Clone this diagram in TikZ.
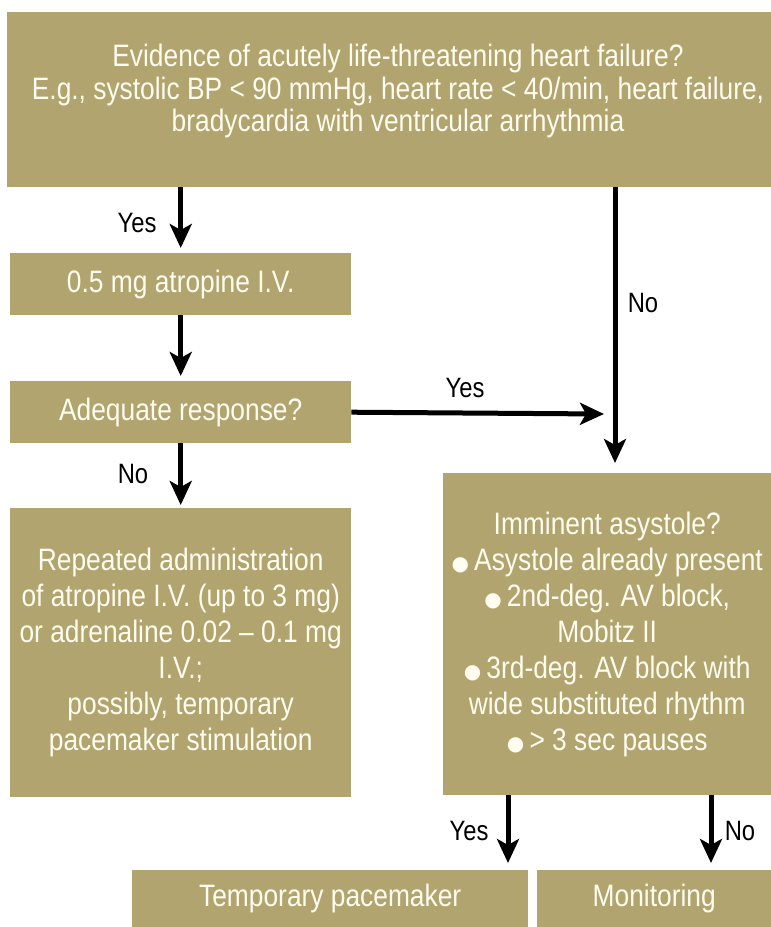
\documentclass[tikz,border=0pt]{standalone}
\usepackage{fontspec}
\setmainfont[FakeStretch=0.85]{Liberation Sans}
\newfontfamily\symfont{DejaVu Sans}
\usetikzlibrary{arrows.meta}
\definecolor{boxfill}{RGB}{177,164,110}
\definecolor{boxtext}{RGB}{255,252,240}
\newcommand{\bul}{{\symfont\fontsize{20}{22}\selectfont ●}\,}
\tikzset{
  fbox/.style={fill=boxfill, draw=none, inner sep=0pt, anchor=north west,
    text=boxtext, align=center, font=\fontsize{31}{36}\selectfont},
  ftext/.style={inner sep=0pt, text=boxtext, align=center, font=\fontsize{31}{32.5}\selectfont},
  arr/.style={line width=5pt, -{Stealth[length=24pt, width=22pt, inset=6pt]}},
  lbl/.style={font=\fontsize{28}{30}\selectfont, text=black, inner sep=0pt}
}
\begin{document}
\begin{tikzpicture}[x=1pt,y=-1pt]
\useasboundingbox (0,0) rectangle (771,927);
\node[fbox, minimum width=764pt, minimum height=175pt] (top) at (7,12) {};
\node[ftext] (toptext) at (398,91)
  {Evidence of acutely life-threatening heart failure?\\
   E.g., systolic BP < 90 mmHg, heart rate < 40/min, heart failure,\\
   bradycardia with ventricular arrhythmia};
\node[fbox, minimum width=341pt, minimum height=62pt] (atro) at (10,253)
  {0.5 mg atropine I.V.};
\node[fbox, minimum width=341pt, minimum height=62pt] (adeq) at (10,381)
  {Adequate response?};
\node[fbox, minimum width=341pt, minimum height=289pt] (rep) at (10,508)
  {Repeated administration\\
   of atropine I.V. (up to 3 mg)\\
   or adrenaline 0.02 -- 0.1 mg\\
   I.V.;\\
   possibly, temporary\\
   pacemaker stimulation};
\node[fbox, minimum width=328pt, minimum height=322pt] (imm) at (443,473)
  {Imminent asystole?\\
   \bul Asystole already present\\
   \bul 2nd-deg. AV block,\\
   Mobitz II\\
   \bul 3rd-deg. AV block with\\
   wide substituted rhythm\\
   \bul > 3 sec pauses};
\node[fbox, minimum width=396pt, minimum height=57pt] (pace) at (132,870)
  {Temporary pacemaker};
\node[fbox, minimum width=234pt, minimum height=57pt] (mon) at (537,870)
  {Monitoring};

\coordinate (nx) at (615,463);
\coordinate (yx) at (604,414);
\coordinate (byes) at (508,0);
\coordinate (bno) at (711,0);

\draw[arr] (top.south -| atro.north) -- ([yshift=5pt]atro.north);
\draw[arr] (atro.south) -- ([yshift=5pt]adeq.north);
\draw[arr] (adeq.south) -- ([yshift=3pt]rep.north);
\draw[arr] (top.south -| nx) -- (nx);
\draw[arr] (adeq.east) -- (yx);
\draw[arr] (imm.south -| byes) -- ([yshift=7pt]pace.north -| byes);
\draw[arr] (imm.south -| bno) -- ([yshift=7pt]mon.north -| bno);

\node[lbl] (l1) at (137,223) {Yes};
\node[lbl] (l2) at (133,474) {No};
\node[lbl] (l3) at (465,388) {Yes};
\node[lbl] (l4) at (643,303) {No};
\node[lbl] (l5) at (469,831) {Yes};
\node[lbl] (l6) at (740,831) {No};
\end{tikzpicture}
\end{document}
